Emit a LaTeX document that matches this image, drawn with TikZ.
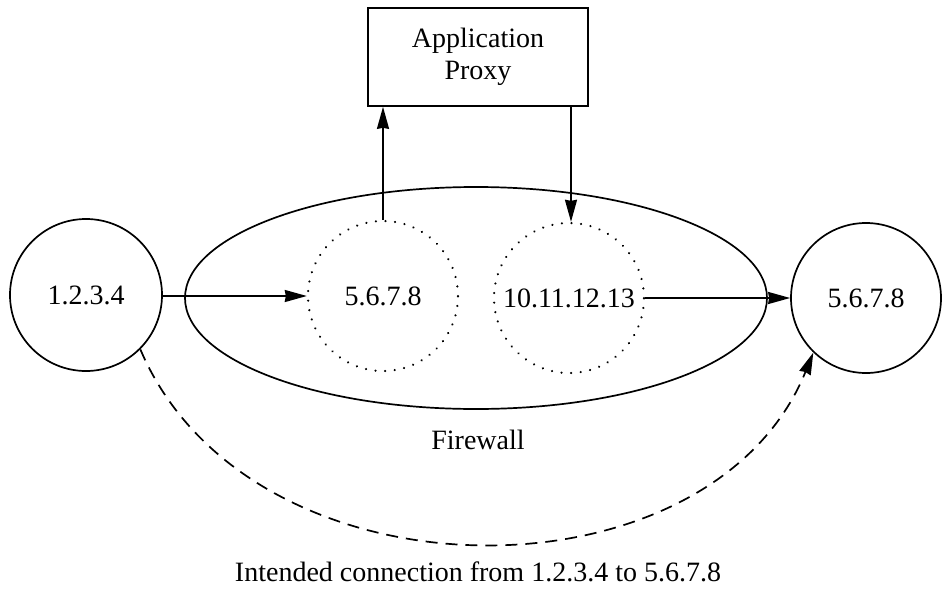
\documentclass[tikz,border=0pt]{standalone}
\usepackage{fontspec}
\setmainfont{Liberation Serif}
\usetikzlibrary{arrows.meta,shapes.geometric}
\begin{document}
\begin{tikzpicture}[x=1pt,y=-1pt,
  every node/.style={font=\fontsize{28}{32}\selectfont},
  host/.style={draw,circle,line width=1.7pt,inner sep=0pt,minimum size=#1},
  proxyside/.style={draw,circle,dash pattern=on 0.01pt off 9.6pt,line cap=round,line width=2.4pt,inner sep=0pt,minimum size=150pt},
  wall/.style={draw,ellipse,line width=1.7pt,inner sep=0pt,minimum width=582pt,minimum height=222pt},
  proxybox/.style={draw,rectangle,line width=1.7pt,minimum width=220pt,minimum height=98pt,align=center},
  flow/.style={line width=1.7pt,-{Stealth[length=22pt,width=12pt,inset=1pt]}},
  intended/.style={line width=1.7pt,dash pattern=on 12pt off 8pt,-{Stealth[length=22pt,width=12pt,inset=1pt]}}]
  \useasboundingbox (0,0) rectangle (942,589);

  % firewall outline and the two proxy endpoints inside it
  \node[wall] (fw) at (476,298) {};
  \node[proxyside] (inner) at (383,296) {};
  \node[proxyside] (outer) at (569,298) {};
  \node at (inner.center) {5.6.7.8};
  \node at (outer.center) {10.11.12.13};

  % end hosts
  \node[host=152pt] (client) at (86,295) {1.2.3.4};
  \node[host=150pt] (server) at (866,298) {5.6.7.8};

  % application proxy
  \node[proxybox] (proxy) at (478,57) {Application\\[0pt]Proxy};

  % labels
  \node (fwlabel) at (478,440) {Firewall};
  \node (intlabel) at (478,572) {Intended connection from 1.2.3.4 to 5.6.7.8};

  % actual traffic path
  \draw[flow] (client.east |- inner.west) -- (inner.west);
  \draw[flow] (inner.north) -- (inner.north |- proxy.south);
  \draw[flow] (proxy.south -| 571,0) -- (571,0 |- outer.north);
  \draw[flow] (outer.east) -- (server.west);

  % intended end-to-end connection
  \draw[intended] (client.-45) .. controls (250,607) and (710,607) .. (server.-134);
\end{tikzpicture}
\end{document}
